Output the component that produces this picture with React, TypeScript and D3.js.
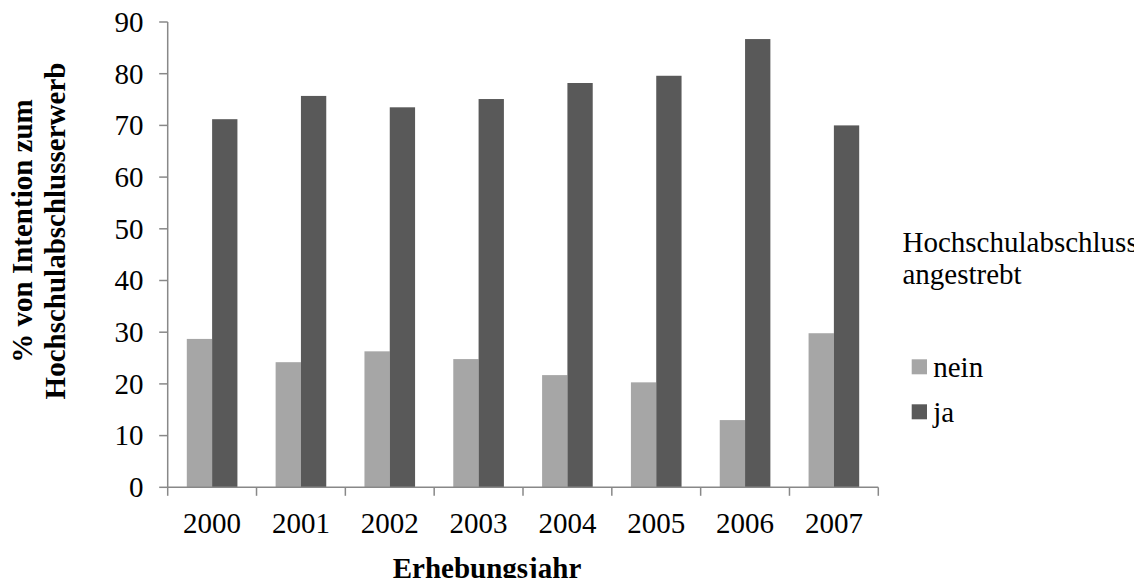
import React from "react";
import * as d3 from "d3";

// Survey years and shares (%) of respondents aiming for a university degree
const years = ["2000", "2001", "2002", "2003", "2004", "2005", "2006", "2007"];
const neinValues = [28.7, 24.2, 26.3, 24.8, 21.7, 20.3, 13.0, 29.8];
const jaValues = [71.2, 75.7, 73.5, 75.1, 78.2, 79.6, 86.7, 70.0];
const seriesKeys = ["nein", "ja"];
const seriesColors = ["#a6a6a6", "#595959"];
const yTicks = [0, 10, 20, 30, 40, 50, 60, 70, 80, 90];

const W = 1142;
const H = 586;
const FONT = "Liberation Serif, Times New Roman, Times, serif";
const FS = 29;
const AXIS = "#888888";

const textStyle: React.CSSProperties = { fontFamily: FONT, fontSize: FS };

export default function App() {
  const left = 167.7;
  const right = 878.3;
  const top = 22;
  const bottom = 487.3;

  const x0 = d3
    .scaleBand<string>()
    .domain(years)
    .range([left, right])
    .paddingInner(0.43)
    .paddingOuter(0.215);
  const x1 = d3
    .scaleBand<string>()
    .domain(seriesKeys)
    .range([0, x0.bandwidth()]);
  const y = d3.scaleLinear().domain([0, 90]).range([bottom, top]);

  const step = (right - left) / years.length;
  const boundaries = d3.range(years.length + 1).map((i) => left + i * step);

  const seriesValues = [neinValues, jaValues];

  return (
    <div style={{ margin: -8 }}>
      <svg width={W} height={H} style={{ display: "block", background: "#fff" }}>
        {/* bars */}
        {years.map((yr, i) => (
          <g key={yr} transform={`translate(${x0(yr)},0)`}>
            {seriesKeys.map((k, s) => (
              <rect
                key={k}
                x={x1(k)}
                y={y(seriesValues[s][i])}
                width={x1.bandwidth()}
                height={bottom - y(seriesValues[s][i])}
                fill={seriesColors[s]}
              />
            ))}
          </g>
        ))}

        {/* y axis */}
        <line x1={left} x2={left} y1={top} y2={bottom} stroke={AXIS} strokeWidth={1.5} />
        {yTicks.map((t) => (
          <g key={t}>
            <line x1={left - 8.5} x2={left} y1={y(t)} y2={y(t)} stroke={AXIS} strokeWidth={1.5} />
            <text x={143.5} y={y(t)} dy="0.34em" textAnchor="end" style={textStyle} fill="#000">
              {t}
            </text>
          </g>
        ))}

        {/* x axis */}
        <line x1={left} x2={right} y1={bottom} y2={bottom} stroke={AXIS} strokeWidth={1.5} />
        {boundaries.map((b, i) => (
          <line key={i} x1={b} x2={b} y1={bottom} y2={bottom + 8.5} stroke={AXIS} strokeWidth={1.5} />
        ))}
        {years.map((yr) => (
          <text
            key={yr}
            x={(x0(yr) as number) + x0.bandwidth() / 2}
            y={532.5}
            textAnchor="middle"
            style={textStyle}
            fill="#000"
          >
            {yr}
          </text>
        ))}

        {/* axis titles */}
        <text x={487} y={578} textAnchor="middle" style={{ ...textStyle, fontWeight: "bold" }} fill="#000">
          Erhebungsjahr
        </text>
        <g transform="translate(32,231) rotate(-90)">
          <text x={0} y={0} textAnchor="middle" style={{ ...textStyle, fontWeight: "bold" }} fill="#000">
            % von Intention zum
          </text>
          <text x={0} y={33} textAnchor="middle" style={{ ...textStyle, fontWeight: "bold" }} fill="#000">
            Hochschulabschlusserwerb
          </text>
        </g>

        {/* legend */}
        <text x={902.5} y={251.7} style={textStyle} fill="#000">
          Hochschulabschluss
        </text>
        <text x={902.5} y={283.5} style={textStyle} fill="#000">
          angestrebt
        </text>
        {seriesKeys.map((k, s) => (
          <g key={k} transform={`translate(911.7,${359.3 + s * 45})`}>
            <rect x={0} y={0} width={15.3} height={15} fill={seriesColors[s]} />
            <text x={21.5} y={17.3} style={textStyle} fill="#000">
              {k}
            </text>
          </g>
        ))}
      </svg>
    </div>
  );
}
